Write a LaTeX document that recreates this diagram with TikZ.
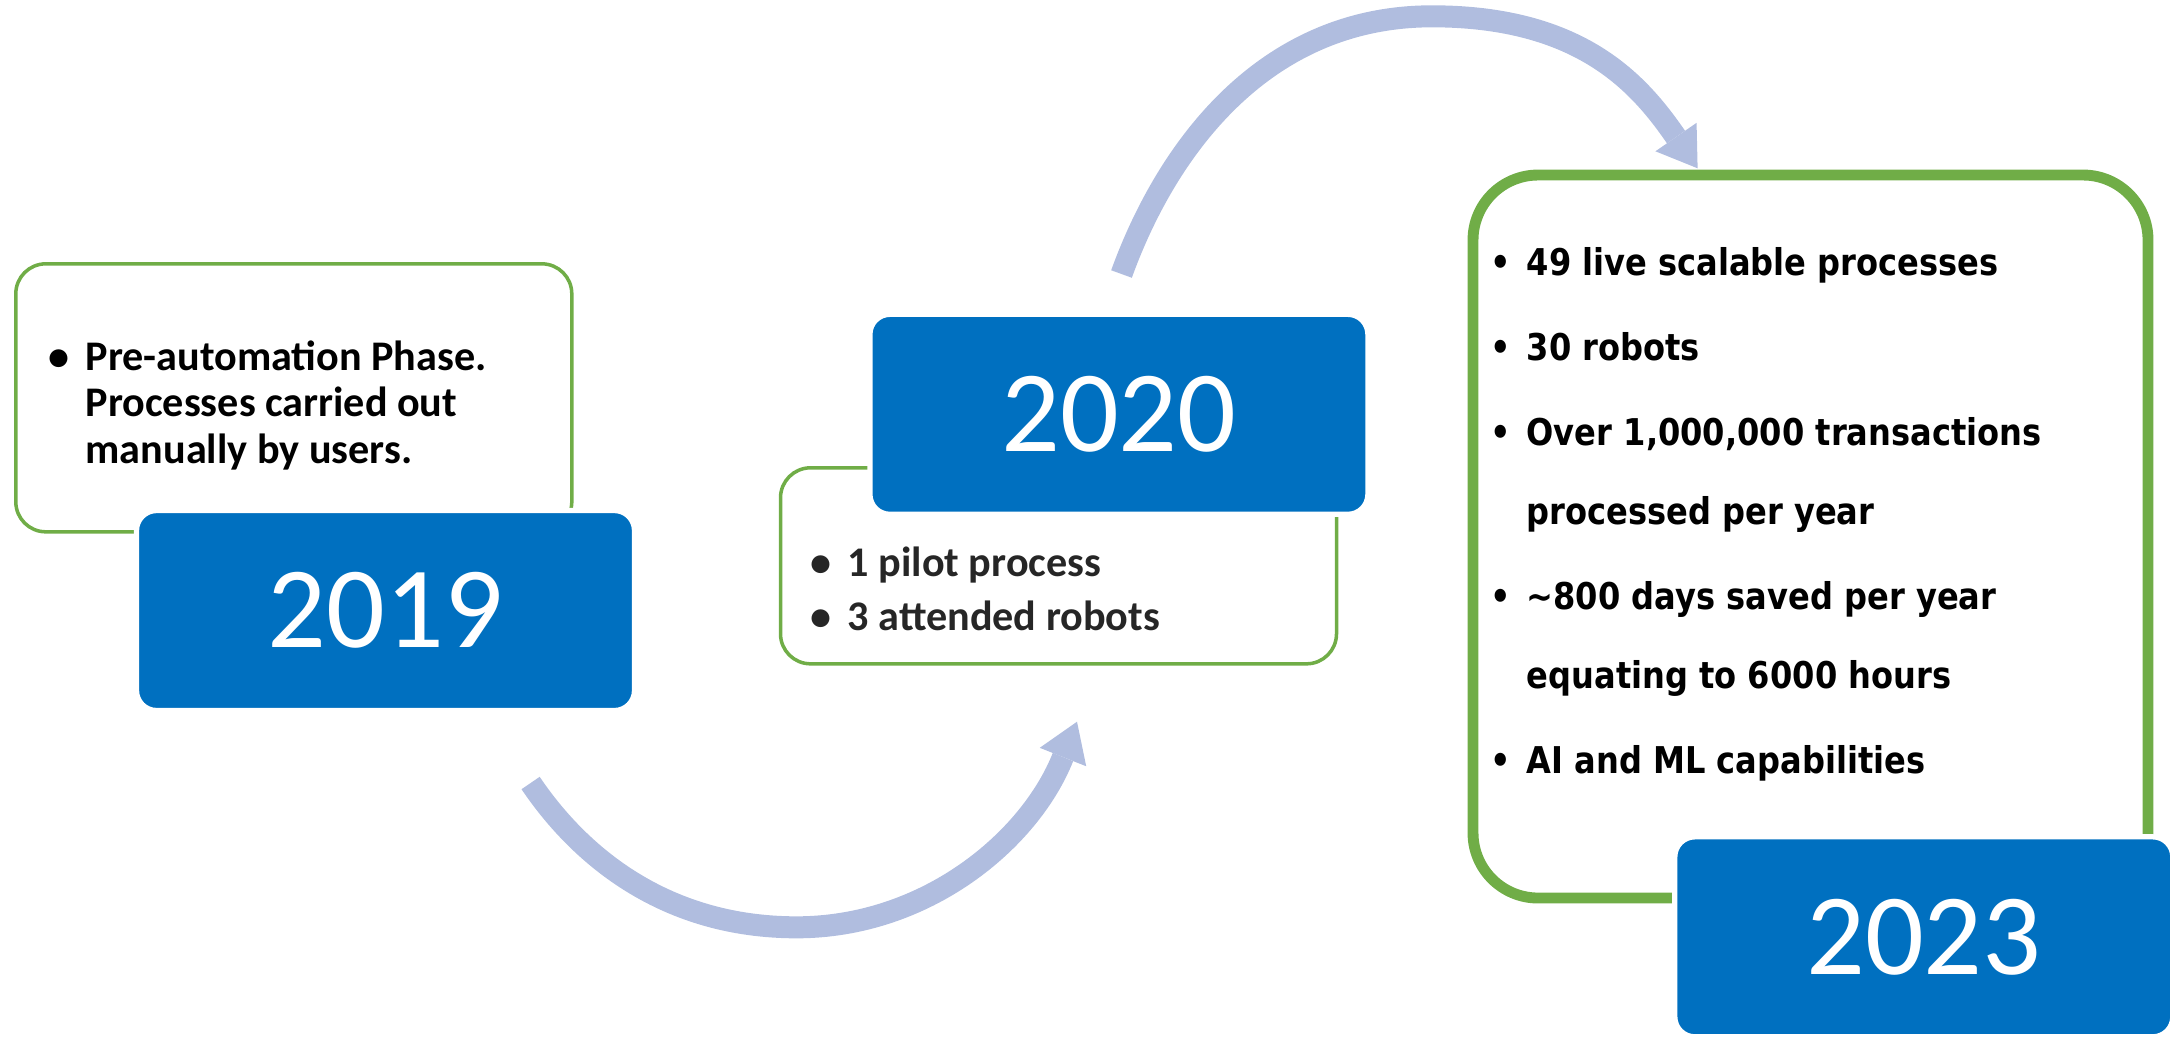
\documentclass[tikz,border=0pt]{standalone}
\usepackage{fontspec}
\setmainfont{Carlito}
\newfontfamily\statsfont[FakeStretch=0.87]{DejaVu Sans}
\usetikzlibrary{arrows.meta}

\definecolor{yearblue}{HTML}{0070C0}
\definecolor{boxgreen}{HTML}{70AD47}
\definecolor{flowblue}{HTML}{B0BDDF}
\definecolor{textgray}{HTML}{262626}

% bullet of fixed width, text starts after it
\newcommand{\bul}[1][5.4mm]{\makebox[#1][c]{\textbullet}}

\begin{document}
\begin{tikzpicture}[x=0.1mm, y=-0.1mm,
    % Define styles
    panel/.style={rectangle, draw=boxgreen, line width=1pt, rounded corners=3mm},
    bigpanel/.style={rectangle, draw=boxgreen, line width=3.1pt, rounded corners=6.5mm},
    year/.style={rectangle, fill=yearblue, draw=white, line width=1.5pt, rounded corners=2mm, minimum width=49.8mm, minimum height=20mm, text=white, font=\fontsize{33}{40}\selectfont},
    notes/.style={anchor=base west, inner sep=0pt, font=\bfseries\fontsize{12}{13.3}\selectfont},
    flow/.style={draw=flowblue, line width=2.2mm, -{Triangle[length=3.8mm, width=5mm, line width=0pt]}}
]
\useasboundingbox (0,0) rectangle (2178,1037);

% Arrow end points
\coordinate (a1s) at (530.6,783);
\coordinate (a1m) at (796.5,927.3);
\coordinate (a1e) at (1077,721.7);
\coordinate (a2s) at (1121.5,274);
\coordinate (a2m) at (1432,16.3);
\coordinate (a2e) at (1697.6,168.3);

% Flow arrows
\draw[flow] (a1s) .. controls (581,857.6) and (666.5,927.3) .. (a1m) .. controls (926.5,927.3) and (1030,840) .. (a1e);
\draw[flow] (a2s) .. controls (1165.7,151.8) and (1262,16.3) .. (a2m) .. controls (1582,16.3) and (1640,85) .. (a2e);

% Note panels
\node[panel, minimum width=55.6mm, minimum height=26.8mm] (note2019) at (293.8,397.8) {};
\node[panel, minimum width=55.6mm, minimum height=19.6mm] (note2020) at (1058.5,565.8) {};
\node[bigpanel, minimum width=67.5mm, minimum height=72.3mm] (note2023) at (1810.5,536.5) {};

% Year boxes
\node[year] (y2019) at (385.5,610.5) {2019};
\node[year] (y2020) at (1118.9,414.3) {2020};
\node[year] (y2023) at (1923.8,936.8) {2023};

% Panel texts
\node[notes] (txt2019) at (31,370) {\begin{tabular}[t]{@{}l@{}l@{}}
  \bul & Pre-automation Phase.\\
       & Processes carried out\\
       & manually by users.
\end{tabular}};

\node[notes, text=textgray, font=\bfseries\fontsize{12}{15.4}\selectfont] (txt2020) at (793,576) {\begin{tabular}[t]{@{}l@{}l@{}}
  \bul & 1 pilot process\\
  \bul & 3 attended robots
\end{tabular}};

\node[notes, font=\statsfont\bfseries\fontsize{10.5}{22.5}\selectfont] (txt2023) at (1475,275.6) {\begin{tabular}[t]{@{}l@{}l@{}}
  \bul[5.1mm] & 49 live scalable processes\\[1.7pt]
  \bul[5.1mm] & 30 robots\\[1.7pt]
  \bul[5.1mm] & Over 1,000,000 transactions\\
              & processed per year\\[1.7pt]
  \bul[5.1mm] & \textasciitilde800 days saved per year\\
              & equating to 6000 hours\\[1.7pt]
  \bul[5.1mm] & AI and ML capabilities
\end{tabular}};

\end{tikzpicture}
\end{document}
